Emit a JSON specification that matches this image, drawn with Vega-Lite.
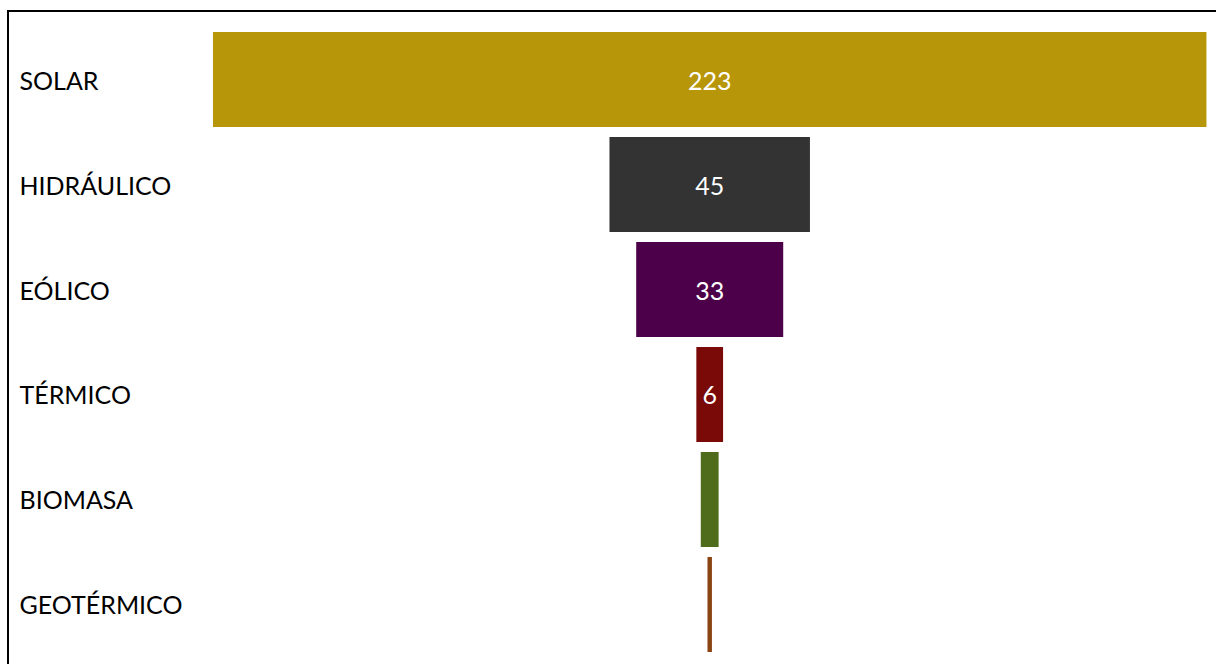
{
  "$schema": "https://vega.github.io/schema/vega-lite/v6.json",
  "autosize": {"type": "none"},
  "padding": {"left": 8, "top": 11, "right": 0, "bottom": 0},
  "width": 1220,
  "height": 662,
  "background": "white",
  "config": {"view": {"stroke": "black", "strokeWidth": 2}, "font": "Lato"},
  "data": {"values": [
    {"fuente": "SOLAR", "valor": 223},
    {"fuente": "HIDRÁULICO", "valor": 45},
    {"fuente": "EÓLICO", "valor": 33},
    {"fuente": "TÉRMICO", "valor": 6},
    {"fuente": "BIOMASA", "valor": 4},
    {"fuente": "GEOTÉRMICO", "valor": 1}
  ]},
  "encoding": {
    "y": {
      "field": "fuente", "type": "nominal", "sort": null,
      "scale": {"paddingInner": 0.0952, "paddingOuter": 0.2},
      "axis": {"title": null, "ticks": false, "tickSize": 0, "domain": false, "labelAlign": "left", "labelPadding": -11, "labelOffset": 2, "labelFontSize": 25, "labelColor": "black", "labelFont": "Lato"}
    }
  },
  "layer": [
    {
      "mark": {"type": "bar"},
      "encoding": {
        "x": {"field": "valor", "type": "quantitative", "stack": "center", "scale": {"domain": [-46.01, 227.84], "nice": false, "zero": false}, "axis": null},
        "color": {"field": "fuente", "type": "nominal", "legend": null,
          "scale": {"domain": ["SOLAR", "HIDRÁULICO", "EÓLICO", "TÉRMICO", "BIOMASA", "GEOTÉRMICO"],
                    "range": ["#B7960A", "#333333", "#4D004A", "#7A0A08", "#4F6B1C", "#8B4513"]}}
      }
    },
    {
      "transform": [{"filter": "datum.valor >= 5"}],
      "mark": {"type": "text", "color": "white", "fontSize": 25, "font": "Lato", "align": "center", "baseline": "middle", "dy": 2},
      "encoding": {
        "x": {"datum": 111.5, "type": "quantitative"},
        "text": {"field": "valor", "type": "quantitative"}
      }
    }
  ]
}
